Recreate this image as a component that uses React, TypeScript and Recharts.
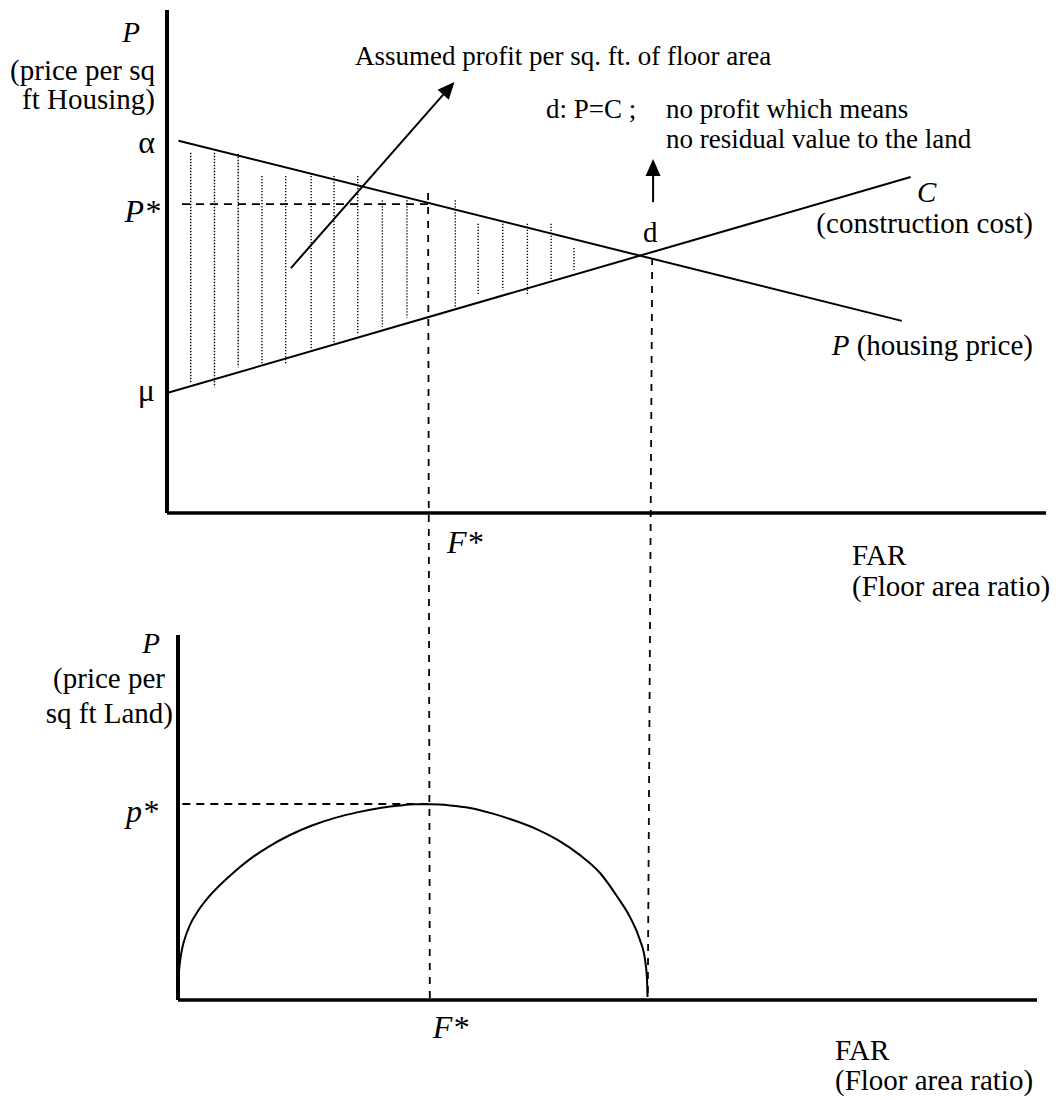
import React from 'react';
import { ComposedChart, Line, XAxis, YAxis, ReferenceLine } from 'recharts';

// upper panel: housing price P and construction cost C against FAR (0..10 both ways)
const housingFar = [0.13, 8.36];
const housingPrice = [7.4, 3.82];
const costFar = [0.01, 8.46];
const costValue = [2.39, 6.68];

const alphaLevel = 7.4;
const muLevel = 2.39;
const pStarLevel = 6.14;
const fStarTop = 2.97;

// dotted hatching of the profit wedge
const hatchFar = [0.27, 0.54, 0.81, 1.08, 1.35, 1.64, 1.9, 2.17, 2.45, 2.73, 3.28, 3.54, 3.82, 4.1, 4.37, 4.63];
const hatchTop = [7.16, 7.16, 7.14, 6.7, 6.7, 6.7, 6.7, 6.7, 6.22, 6.22, 6.22, 5.75, 5.75, 5.75, 5.75, 5.27];
const hatchBottom = [2.59, 2.5, 2.9, 2.96, 2.94, 3.24, 3.38, 3.54, 3.7, 3.88, 4.1, 4.33, 4.43, 4.33, 4.63, 4.83];

// guides and arrows, [far, value] pairs
const pStarGuide = [[0.17, 6.14], [2.97, 6.14]];
const fStarGuide = [[2.97, 6.36], [2.99, -9.68]];
const dGuide = [[5.52, 5.07], [5.47, -9.58]];
const profitArrow = [[1.41, 4.87], [3.27, 8.57]];
const dArrow = [[5.53, 6.18], [5.53, 7.04]];

// lower panel: residual land price against FAR
const landFar = [0, 0.0035, 0.0116, 0.029, 0.052, 0.093, 0.14, 0.233, 0.338, 0.489, 0.664, 0.838, 1.048,
  1.304, 1.56, 1.828, 2.084, 2.352, 2.584, 2.759, 2.934, 3.166, 3.399, 3.644, 3.865, 4.168, 4.424, 4.68,
  4.913, 5.122, 5.262, 5.378, 5.437, 5.46, 5.466];
const landPrice = [0.08, 0.41, 0.77, 1.15, 1.45, 1.78, 2.06, 2.44, 2.77, 3.15, 3.53, 3.86, 4.19,
  4.52, 4.78, 4.99, 5.14, 5.26, 5.33, 5.36, 5.36, 5.33, 5.26, 5.12, 4.96, 4.69, 4.38, 3.97,
  3.48, 2.8, 2.27, 1.64, 1.1, 0.55, 0.08];
const pStarLand = 5.37;
const fStarBottom = 2.93;

const housingData = housingFar.map((far, i) => ({ far, p: housingPrice[i] }));
const costData = costFar.map((far, i) => ({ far, c: costValue[i] }));
const landData = landFar.map((far, i) => ({ far, v: landPrice[i] }));

const serif = '"Liberation Serif", "Times New Roman", serif';

type TickLook = { dx: number; dy: number; anchor: 'start' | 'end'; italic: boolean };

const makeTick = (ticks: number[], labels: string[], looks: TickLook[]) => (props: any) => {
  const { x, y, payload } = props;
  const i = ticks.indexOf(payload.value);
  if (i < 0) return <g />;
  const s = looks[i];
  return (
    <text x={x + s.dx} y={y + s.dy} textAnchor={s.anchor} fontFamily={serif} fontSize={32}
      fontStyle={s.italic ? 'italic' : 'normal'} fill="#000">
      {labels[i]}
    </text>
  );
};

const arrowShape = (props: any) => {
  const { x1, y1, x2, y2 } = props;
  const a = Math.atan2(y2 - y1, x2 - x1);
  const len = 17;
  const half = 7.5;
  const bx = x2 - len * Math.cos(a);
  const by = y2 - len * Math.sin(a);
  const pts = `${x2},${y2} ${bx + half * Math.sin(a)},${by - half * Math.cos(a)} ${bx - half * Math.sin(a)},${by + half * Math.cos(a)}`;
  return (
    <g>
      <line x1={x1} y1={y1} x2={bx} y2={by} stroke="#000" strokeWidth={2} />
      <polygon points={pts} fill="#000" />
    </g>
  );
};

const seg = (p: number[][]) => p.map(([x, y]) => ({ x, y }));

const axisLine = { stroke: '#000', strokeWidth: 4 };

const TopChart = () => (
  <ComposedChart width={1062} height={1100} margin={{ top: 10, right: 16, left: 107, bottom: 547 }}>
    <XAxis type="number" dataKey="far" domain={[0, 10]} ticks={[fStarTop]} interval={0} height={40}
      axisLine={{ stroke: '#000', strokeWidth: 3.5 }} tickLine={false} tickSize={0} tickMargin={0}
      tick={makeTick([fStarTop], ['F*'], [{ dx: 19, dy: 40, anchor: 'start', italic: true }])} />
    <YAxis type="number" domain={[0, 10]} ticks={[muLevel, pStarLevel, alphaLevel]} interval={0} width={60}
      axisLine={axisLine} tickLine={false} tickSize={0} tickMargin={0}
      tick={makeTick([muLevel, pStarLevel, alphaLevel], ['μ', 'P*', 'α'], [
        { dx: -12, dy: 8, anchor: 'end', italic: false },
        { dx: -7, dy: 18, anchor: 'end', italic: true },
        { dx: -12, dy: 12, anchor: 'end', italic: false },
      ])} />
    {hatchFar.map((f, i) => (
      <ReferenceLine key={i} ifOverflow="visible" stroke="#000" strokeWidth={1.4} strokeDasharray="1.3 1.7"
        segment={[{ x: f, y: hatchTop[i] }, { x: f, y: hatchBottom[i] }]} />
    ))}
    <ReferenceLine ifOverflow="visible" segment={seg(pStarGuide)} stroke="#000" strokeWidth={1.8} strokeDasharray="8 6" />
    <ReferenceLine ifOverflow="visible" segment={seg(fStarGuide)} stroke="#000" strokeWidth={1.8} strokeDasharray="7 7" />
    <ReferenceLine ifOverflow="visible" segment={seg(dGuide)} stroke="#000" strokeWidth={1.8} strokeDasharray="7 7" />
    <Line data={housingData} dataKey="p" type="linear" stroke="#000" strokeWidth={2} dot={false} isAnimationActive={false} />
    <Line data={costData} dataKey="c" type="linear" stroke="#000" strokeWidth={2} dot={false} isAnimationActive={false} />
    <ReferenceLine ifOverflow="visible" segment={seg(profitArrow)} shape={arrowShape} />
    <ReferenceLine ifOverflow="visible" segment={seg(dArrow)} shape={arrowShape} />
  </ComposedChart>
);

const BottomChart = () => (
  <ComposedChart width={1062} height={1100} margin={{ top: 635, right: 25, left: 118, bottom: 60 }}>
    <XAxis type="number" dataKey="far" domain={[0, 10]} ticks={[fStarBottom]} interval={0} height={40}
      axisLine={{ stroke: '#000', strokeWidth: 3.5 }} tickLine={false} tickSize={0} tickMargin={0}
      tick={makeTick([fStarBottom], ['F*'], [{ dx: 3, dy: 38, anchor: 'start', italic: true }])} />
    <YAxis type="number" domain={[0, 10]} ticks={[pStarLand]} interval={0} width={60}
      axisLine={axisLine} tickLine={false} tickSize={0} tickMargin={0}
      tick={makeTick([pStarLand], ['p*'], [{ dx: -20, dy: 18, anchor: 'end', italic: true }])} />
    <ReferenceLine ifOverflow="visible" segment={[{ x: 0.05, y: pStarLand }, { x: fStarBottom, y: pStarLand }]}
      stroke="#000" strokeWidth={1.8} strokeDasharray="8 6" />
    <Line data={landData} dataKey="v" type="monotone" stroke="#000" strokeWidth={2} dot={false} isAnimationActive={false} />
  </ComposedChart>
);

const T = (p: { x: number; y: number; size?: number; anchor?: 'start' | 'end'; italic?: boolean; children: React.ReactNode }) => (
  <text x={p.x} y={p.y} fontSize={p.size ?? 29} textAnchor={p.anchor ?? 'start'} fontFamily={serif}
    fontStyle={p.italic ? 'italic' : 'normal'} fill="#000">
    {p.children}
  </text>
);

const Labels = () => (
  <svg width={1062} height={1100} style={{ position: 'absolute', left: 0, top: 0, pointerEvents: 'none' }}>
    <T x={140} y={42} anchor="end" italic>P</T>
    <T x={155} y={80} anchor="end">(price per sq</T>
    <T x={155} y={109} anchor="end">ft Housing)</T>

    <T x={355} y={65} size={27}>Assumed profit per sq. ft. of floor area</T>
    <T x={546} y={118} size={27}>d: P=C ;</T>
    <T x={666} y={118} size={27}>no profit which means</T>
    <T x={666} y={148} size={27}>no residual value to the land</T>
    <T x={643} y={242} size={29}>d</T>

    <T x={917} y={202} italic>C</T>
    <T x={1033} y={233} anchor="end">(construction cost)</T>
    <text x={1033} y={355} fontSize={29} textAnchor="end" fontFamily={serif} fill="#000">
      <tspan fontStyle="italic">P</tspan> (housing price)
    </text>

    <T x={852} y={565}>FAR</T>
    <T x={852} y={596}>(Floor area ratio)</T>

    <T x={160} y={653} anchor="end" italic>P</T>
    <T x={165} y={688} anchor="end">(price per</T>
    <T x={173} y={723} anchor="end">sq ft Land)</T>

    <T x={835} y={1060}>FAR</T>
    <T x={835} y={1090}>(Floor area ratio)</T>
  </svg>
);

const App = () => (
  <div style={{ position: 'absolute', left: 0, top: 0, width: 1062, height: 1100, background: '#fff' }}>
    <div style={{ position: 'absolute', left: 0, top: 0 }}>
      <TopChart />
    </div>
    <div style={{ position: 'absolute', left: 0, top: 0 }}>
      <BottomChart />
    </div>
    <Labels />
  </div>
);

export default App;
